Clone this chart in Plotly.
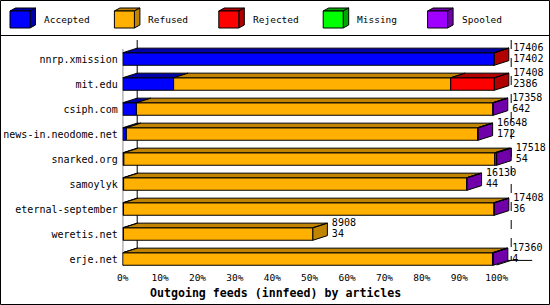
import plotly.graph_objects as go

# ---------------- data ----------------
feeds = ["nnrp.xmission", "mit.edu", "csiph.com", "news-in.neodome.net",
         "snarked.org", "samoylyk", "eternal-september", "weretis.net", "erje.net"]
totals = [17406, 17408, 17358, 16648, 17518, 16130, 17408, 8908, 17360]
accepted = [17402, 2386, 642, 172, 54, 44, 36, 34, 4]
refused = [0, 12978, 16696, 16461, 17374, 16071, 17357, 8874, 17316]
rejected = [4, 2044, 0, 0, 0, 0, 0, 0, 0]
missing = [0, 0, 0, 0, 0, 0, 0, 0, 0]
spooled = [0, 0, 20, 15, 90, 15, 15, 0, 40]
series_names = ["Accepted", "Refused", "Rejected", "Missing", "Spooled"]
series_vals = [accepted, refused, rejected, missing, spooled]
x_ticks = [0, 10, 20, 30, 40, 50, 60, 70, 80, 90, 100]

# ---------------- styles ----------------
front = ["#0000FF", "#FFB000", "#FF0000", "#00FF00", "#A000FF"]
dark = ["#0000A8", "#C08400", "#B00000", "#00A800", "#7000A8"]
MONO = "DejaVu Sans Mono"
W, H = 550, 305
X0PX, PXPCT = 122.7, 3.74          # pixel of 0 %, pixels per percent
XR_PX = 548.0
YTOP_PX, YBOT_PX, ROW0_PX, ROWPX = 38.0, 268.0, 59.0, 25.0
DX = 14.5 / PXPCT                  # 3D depth in x (percent units)
DY = 4.6 / ROWPX                   # 3D depth in y (row units)
BW = 0.5                           # bar thickness (row units)
LABEL_GAP = 4.5 / PXPCT

xmax = (XR_PX - X0PX) / PXPCT
ytop = (YTOP_PX - ROW0_PX) / ROWPX
ybot = (YBOT_PX - ROW0_PX) / ROWPX

maxtot = max(totals)
pct = [[v / maxtot * 100 for v in s] for s in series_vals]
n = len(feeds)

fig = go.Figure()

# front faces
starts = [[0.0] * n for _ in series_vals]
for i in range(n):
    c = 0.0
    for k in range(len(series_vals)):
        starts[k][i] = c
        c += pct[k][i]
for k, name in enumerate(series_names):
    xs, ys, bs = [], [], []
    for i in range(n):
        if pct[k][i] > 0:
            xs.append(pct[k][i]); ys.append(i); bs.append(starts[k][i])
    if xs:
        fig.add_trace(go.Bar(x=xs, y=ys, base=bs, orientation="h", width=BW,
                             marker=dict(color=front[k], line=dict(color="black", width=1)),
                             showlegend=False, hoverinfo="skip"))

# top faces and side faces
last_seg = []
for i in range(n):
    lk = max(k for k in range(len(series_vals)) if pct[k][i] > 0)
    last_seg.append(lk)
for k in range(len(series_names)):
    px, py = [], []
    for i in range(n):
        if pct[k][i] <= 0:
            continue
        x0 = starts[k][i]; x1 = x0 + pct[k][i]
        yt = i - BW / 2
        px += [x0, x1, x1 + DX, x0 + DX, x0, None]
        py += [yt, yt, yt - DY, yt - DY, yt, None]
        if last_seg[i] == k:
            yb = i + BW / 2
            px += [x1, x1 + DX, x1 + DX, x1, x1, None]
            py += [yt, yt - DY, yb - DY, yb, yt, None]
    if px:
        fig.add_trace(go.Scatter(x=px, y=py, mode="lines", fill="toself",
                                 fillcolor=dark[k], line=dict(color="black", width=1),
                                 showlegend=False, hoverinfo="skip"))

# value labels
tot_pct = [sum(pct[k][i] for k in range(len(series_vals))) for i in range(n)]
lab_x = [t + DX + LABEL_GAP for t in tot_pct]
fig.add_trace(go.Scatter(x=lab_x, y=[i - 0.42 for i in range(n)],
                         mode="text", text=[str(v) for v in totals], textposition="middle right",
                         textfont=dict(family=MONO, size=10, color="black"),
                         cliponaxis=False, showlegend=False, hoverinfo="skip"))
fig.add_trace(go.Scatter(x=lab_x, y=[i + 0.03 for i in range(n)],
                         mode="text", text=[str(v) for v in accepted], textposition="middle right",
                         textfont=dict(family=MONO, size=10, color="black"),
                         cliponaxis=False, showlegend=False, hoverinfo="skip"))

shapes = []
# 3D axes frame (under the bars)
yb_front = (265 - ROW0_PX) / ROWPX
yb_back = yb_front - DY
shapes.append(dict(type="line", xref="x", yref="y", x0=0, x1=0, y0=(49 - ROW0_PX) / ROWPX,
                   y1=yb_front, line=dict(color="black", width=1), layer="below"))
shapes.append(dict(type="line", xref="x", yref="y", x0=DX, x1=DX, y0=(40 - ROW0_PX) / ROWPX,
                   y1=yb_back, line=dict(color="black", width=1), layer="below"))
shapes.append(dict(type="line", xref="x", yref="y", x0=100 + DX, x1=100 + DX, y0=(40 - ROW0_PX) / ROWPX,
                   y1=yb_back, line=dict(color="black", width=1, dash="dash"), layer="below"))
shapes.append(dict(type="line", xref="x", yref="y", x0=DX, x1=-DX, y0=yb_back,
                   y1=yb_front + DY, line=dict(color="black", width=1), layer="below"))
shapes.append(dict(type="line", xref="x", yref="y", x0=DX, x1=109.5, y0=yb_back,
                   y1=yb_back, line=dict(color="black", width=1), layer="below"))
shapes.append(dict(type="line", xref="x", yref="y", x0=100, x1=100 + DX, y0=yb_front,
                   y1=yb_back, line=dict(color="black", width=1), layer="below"))

def px_x(p):
    return p / W

def px_y(p):
    return 1 - p / H

# outer frame + legend separator
shapes.append(dict(type="rect", xref="paper", yref="paper", x0=px_x(0.5), x1=px_x(549.5),
                   y0=px_y(0.5), y1=px_y(304.5), line=dict(color="black", width=1)))
shapes.append(dict(type="line", xref="paper", yref="paper", x0=0, x1=1,
                   y0=px_y(35.5), y1=px_y(35.5), line=dict(color="black", width=1)))

annotations = []
# legend boxes (3D cubes)
for k, name in enumerate(series_names):
    bx = 10 + 104.4 * k
    fx0, fx1, fy0, fy1 = bx, bx + 20, 11, 28
    ddx, ddy = 5.5, 3
    shapes.append(dict(type="path", xref="paper", yref="paper",
                       path=f"M{px_x(fx0)},{px_y(fy0)} L{px_x(fx0+ddx)},{px_y(fy0-ddy)} "
                            f"L{px_x(fx1+ddx)},{px_y(fy0-ddy)} L{px_x(fx1)},{px_y(fy0)} Z",
                       fillcolor=dark[k], line=dict(color="black", width=1)))
    shapes.append(dict(type="path", xref="paper", yref="paper",
                       path=f"M{px_x(fx1)},{px_y(fy0)} L{px_x(fx1+ddx)},{px_y(fy0-ddy)} "
                            f"L{px_x(fx1+ddx)},{px_y(fy1-ddy)} L{px_x(fx1)},{px_y(fy1)} Z",
                       fillcolor=dark[k], line=dict(color="black", width=1)))
    shapes.append(dict(type="rect", xref="paper", yref="paper", x0=px_x(fx0), x1=px_x(fx1),
                       y0=px_y(fy1), y1=px_y(fy0), fillcolor=front[k],
                       line=dict(color="black", width=1)))
    annotations.append(dict(xref="paper", yref="paper", x=px_x(bx + 32), y=px_y(20),
                            xanchor="left", yanchor="middle", text=name, showarrow=False,
                            font=dict(family=MONO, size=9.5, color="black")))

annotations.append(dict(xref="paper", yref="paper", x=px_x(148), y=px_y(292.5),
                        xanchor="left", yanchor="middle",
                        text="<b>Outgoing feeds (innfeed) by articles</b>", showarrow=False,
                        font=dict(family=MONO, size=11.6, color="black")))

fig.update_layout(
    width=W, height=H, margin=dict(l=0, r=0, t=0, b=0),
    paper_bgcolor="white", plot_bgcolor="white",
    barmode="overlay", showlegend=False,
    shapes=shapes, annotations=annotations,
    xaxis=dict(domain=[X0PX / W, XR_PX / W], range=[0, xmax], showgrid=False,
               zeroline=False, showline=False, tickvals=x_ticks,
               ticktext=[f"{t}%" for t in x_ticks], ticks="outside", ticklen=1,
               tickcolor="rgba(0,0,0,0)",
               tickfont=dict(family=MONO, size=9.5, color="black"), automargin=False),
    yaxis=dict(domain=[1 - YBOT_PX / H, 1 - YTOP_PX / H], range=[ybot, ytop],
               showgrid=False, zeroline=False, showline=False,
               tickvals=list(range(n)), ticktext=feeds, ticks="outside", ticklen=2,
               tickcolor="rgba(0,0,0,0)",
               tickfont=dict(family=MONO, size=10, color="black"), automargin=False),
)

fig.write_html("out.html")
